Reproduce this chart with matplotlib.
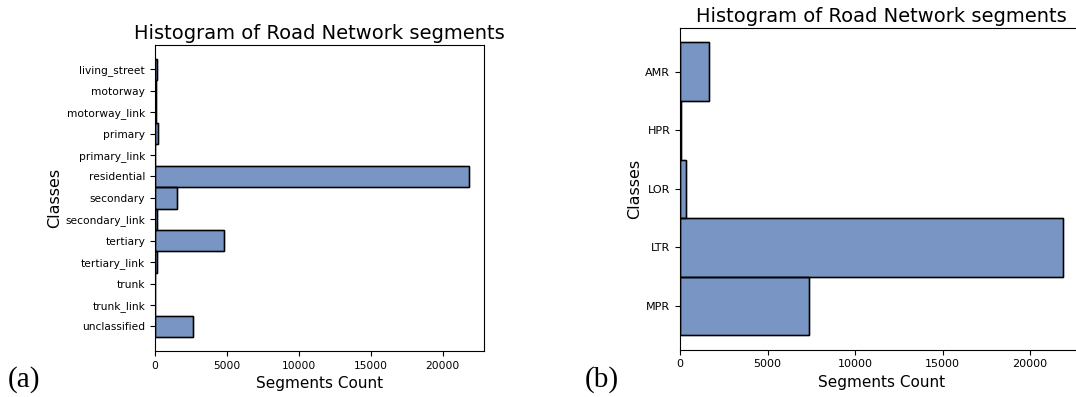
import numpy as np
import matplotlib.pyplot as plt

# OSM highway classes and their segment counts
osm_classes = ['living_street', 'motorway', 'motorway_link', 'primary', 'primary_link',
               'residential', 'secondary', 'secondary_link', 'tertiary', 'tertiary_link',
               'trunk', 'trunk_link', 'unclassified']
osm_counts = [130, 60, 80, 200, 20, 21800, 1530, 150, 4790, 150, 20, 10, 2620]

# grouped road classes
grp_classes = ['AMR', 'HPR', 'LOR', 'LTR', 'MPR']
grp_counts = [1675, 80, 340, 21900, 7370]

fill = '#4C72B0'

fig = plt.figure(figsize=(10.76, 3.97), dpi=100)
ax1 = fig.add_axes([0.144, 0.116, 0.306, 0.771])
ax2 = fig.add_axes([0.632, 0.119, 0.374, 0.811])


def hist_panel(ax, classes, counts, ticksize):
    y = np.arange(len(classes))
    ax.barh(y, counts, height=1.0, color=fill, alpha=0.75, edgecolor='black', linewidth=1)
    ax.barh(y, counts, height=1.0, fill=False, edgecolor='black', linewidth=1)
    ax.set_yticks(y)
    ax.set_yticklabels(classes)
    ax.invert_yaxis()
    ax.set_xticks([0, 5000, 10000, 15000, 20000])
    ax.tick_params(labelsize=ticksize)
    ax.set_xlabel('Segments Count', fontsize=11)
    ax.set_ylabel('Classes', fontsize=11.5, labelpad=2)
    ax.set_title('Histogram of Road Network segments', fontsize=14, pad=4)


hist_panel(ax1, osm_classes, osm_counts, 7.7)
hist_panel(ax2, grp_classes, grp_counts, 8)

fig.text(0.007, 0.025, '(a)', family='Liberation Serif', fontsize=21, va='baseline')
fig.text(0.543, 0.025, '(b)', family='Liberation Serif', fontsize=21, va='baseline')

fig.savefig('out.png', dpi=100)
